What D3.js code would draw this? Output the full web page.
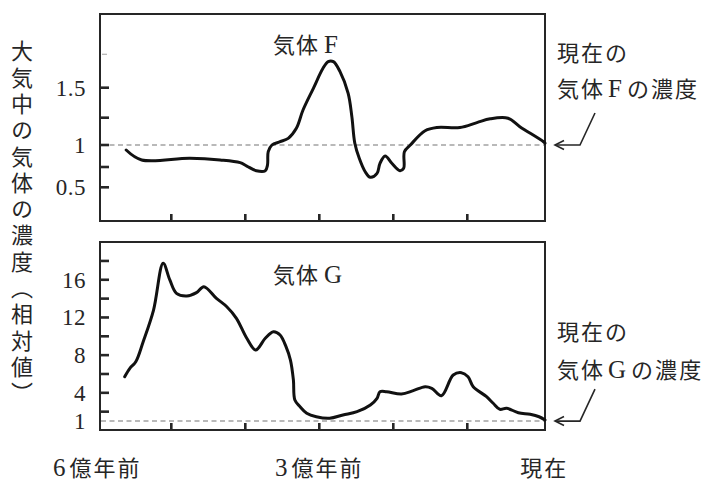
<!DOCTYPE html>
<html><head><meta charset="utf-8">
<script src="https://cdn.jsdelivr.net/npm/d3@7"></script>
<style>body{margin:0;background:#fff}</style>
</head><body>
<svg id="c" width="716" height="482"></svg>
<script>
// ---- data ----
const xTickValues = [-5, -4, -3, -2, -1];
const xLabelValues = [-6, -3, 0];
const xLabels = ["6億年前", "3億年前", "現在"];

const fTickValues = [0.5, 0.75, 1, 1.25, 1.5];
const fFaintTicks = [1.75];
const fLabelValues = [0.5, 1, 1.5];
const fLabels = ["0.5", "1", "1.5"];

const gTickValues = [2, 4, 6, 8, 10, 12, 14, 16, 18];
const gLabelValues = [1, 4, 8, 12, 16];
const gLabels = ["1", "4", "8", "12", "16"];

const fYears = [-5.61,-5.40,-4.75,-4.34,-4.07,-3.98,-3.85,-3.73,-3.70,-3.69,-3.64,-3.53,-3.42,-3.31,-3.22,-3.08,-2.95,-2.88,-2.81,-2.72,-2.61,-2.56,-2.52,-2.46,-2.38,-2.31,-2.22,-2.18,-2.11,-2.02,-1.91,-1.86,-1.85,-1.77,-1.57,-1.41,-1.10,-0.87,-0.69,-0.45,-0.29,0.03,0.05];
const fValues = [0.943,0.830,0.849,0.830,0.799,0.761,0.704,0.704,0.773,0.924,1.000,1.030,1.061,1.153,1.314,1.495,1.645,1.695,1.695,1.620,1.453,1.259,1.016,0.849,0.692,0.623,0.672,0.792,0.875,0.792,0.704,0.734,0.924,1.000,1.130,1.160,1.160,1.205,1.240,1.245,1.168,1.030,1.016];

const gYears = [-5.63,-5.56,-5.48,-5.38,-5.24,-5.11,-5.02,-4.93,-4.79,-4.66,-4.56,-4.39,-4.25,-4.12,-3.98,-3.86,-3.73,-3.62,-3.53,-3.45,-3.39,-3.35,-3.33,-3.26,-3.17,-3.04,-2.86,-2.68,-2.49,-2.31,-2.22,-2.18,-2.09,-1.89,-1.73,-1.57,-1.48,-1.35,-1.19,-1.08,-0.99,-0.92,-0.74,-0.65,-0.56,-0.47,-0.31,-0.15,-0.03,0.05];
const gValues = [5.71,6.60,7.30,9.43,12.79,17.75,15.98,14.56,14.28,14.63,15.27,14.03,13.14,11.91,9.79,8.55,9.79,10.49,10.14,8.90,7.48,5.36,3.24,2.53,1.83,1.46,1.30,1.65,2.00,2.71,3.42,4.12,4.12,3.87,4.23,4.65,4.48,3.69,5.89,6.14,5.71,4.65,3.59,2.89,2.25,2.36,1.89,1.72,1.46,1.11];

// ---- drawing ----
const svg = d3.select("#c");
const ink = "#262626";
const serif = "'Liberation Serif','Noto Sans CJK JP',serif";
const cjk = "'Noto Sans CJK JP','Liberation Serif',sans-serif";

const x = d3.scaleLinear().domain([-6, 0]).range([97.3, 541.3]);
const yF = d3.scaleLinear().domain([0.5, 0.75, 1, 1.25, 1.5, 1.75]).range([187.3, 167, 145, 117.7, 87.7, 54.3]);
const yG = d3.scaleLinear().domain([0, 20]).range([430.5, 242.1]);

function mixedText(sel, str, cjkSize, latinSize, gap) {
  [...str].forEach((ch, i) => {
    const latin = /[A-Za-z0-9.]/.test(ch);
    const t = sel.append("tspan").text(ch)
      .attr("font-family", latin ? serif : cjk)
      .attr("font-size", latin ? latinSize : cjkSize);
    if (latin && i > 0) t.attr("dx", gap);
    if (!latin && i > 0 && /[A-Za-z0-9]/.test(str[i - 1])) t.attr("dx", gap);
  });
  return sel;
}

const L = 100, R = 545;
const panels = [
  {top: 14, bottom: 221, y: yF, ticks: fTickValues, faint: fFaintTicks, lv: fLabelValues, lt: fLabels,
   years: fYears, vals: fValues, title: "気体F", titleY: 53, note: ["現在の", "気体Fの濃度"], noteY: [61, 97]},
  {top: 242, bottom: 430, y: yG, ticks: gTickValues, faint: [], lv: gLabelValues, lt: gLabels,
   years: gYears, vals: gValues, title: "気体G", titleY: 283, note: ["現在の", "気体Gの濃度"], noteY: [340, 378]}
];

panels.forEach(p => {
  const g = svg.append("g");
  g.append("line").attr("x1", L + 1).attr("x2", R).attr("y1", p.y(1)).attr("y2", p.y(1))
    .attr("stroke", "#a3a3a3").attr("stroke-width", 1.5).attr("stroke-dasharray", "5,3.5");
  g.append("rect").attr("x", L).attr("y", p.top).attr("width", R - L).attr("height", p.bottom - p.top)
    .attr("fill", "none").attr("stroke", ink).attr("stroke-width", 2);
  g.selectAll(".yt").data(p.ticks).join("line")
    .attr("x1", L).attr("x2", L + 9).attr("y1", d => p.y(d)).attr("y2", d => p.y(d))
    .attr("stroke", ink).attr("stroke-width", 2.6);
  g.selectAll(".yf").data(p.faint).join("line")
    .attr("x1", L + 2).attr("x2", L + 7).attr("y1", d => p.y(d)).attr("y2", d => p.y(d))
    .attr("stroke", "#b0b0b0").attr("stroke-width", 1.2);
  g.selectAll(".yl").data(p.lv).join("text")
    .attr("x", 86).attr("y", d => p.y(d)).attr("dy", "0.34em")
    .attr("text-anchor", "end").attr("font-family", serif).attr("font-size", 23).attr("letter-spacing", 0.5).attr("fill", ink)
    .text((d, i) => p.lt[i]);
  g.selectAll(".xt").data(xTickValues).join("line")
    .attr("x1", d => x(d)).attr("x2", d => x(d)).attr("y1", p.bottom).attr("y2", p.bottom - 7)
    .attr("stroke", ink).attr("stroke-width", 2.6);
  const line = d3.line().x((d, i) => x(p.years[i])).y(d => p.y(d)).curve(d3.curveCatmullRom.alpha(0.5));
  g.append("path").datum(p.vals).attr("d", line).attr("fill", "none")
    .attr("stroke", "#111").attr("stroke-width", 3).attr("stroke-linejoin", "round").attr("stroke-linecap", "round");
  mixedText(g.append("text").attr("x", 273).attr("y", p.titleY).attr("fill", ink).attr("letter-spacing", 1),
    p.title, 22, 25, 5);
  p.note.forEach((t, i) => {
    mixedText(g.append("text").attr("x", 557).attr("y", p.noteY[i]).attr("fill", ink).attr("letter-spacing", 2),
      t, 22, 25, 3);
  });
  const ay = p.y(1);
  const tipX = 555;
  g.append("path")
    .attr("d", `M${tipX + 40},${ay - 32} L${tipX + 25},${ay} L${tipX},${ay}`)
    .attr("fill", "none").attr("stroke", ink).attr("stroke-width", 1.6);
  g.append("path")
    .attr("d", `M${tipX + 9},${ay - 4.5} L${tipX},${ay} L${tipX + 9},${ay + 4.5}`)
    .attr("fill", "none").attr("stroke", ink).attr("stroke-width", 1.6);
});

svg.selectAll(".xl").data(xLabelValues).join("text")
  .attr("x", d => x(d) + (d === 0 ? 3 : 0)).attr("y", 476)
  .attr("text-anchor", "middle").attr("fill", ink).attr("letter-spacing", 2)
  .each(function(d, i) { mixedText(d3.select(this), xLabels[i], 22, 25, 2); });

svg.append("text")
  .attr("x", 22).attr("y", 40)
  .style("writing-mode", "vertical-rl")
  .attr("font-family", cjk).attr("font-size", 22).attr("letter-spacing", 4.3)
  .attr("fill", ink)
  .text("大気中の気体の濃度（相対値）");
</script>
</body></html>
